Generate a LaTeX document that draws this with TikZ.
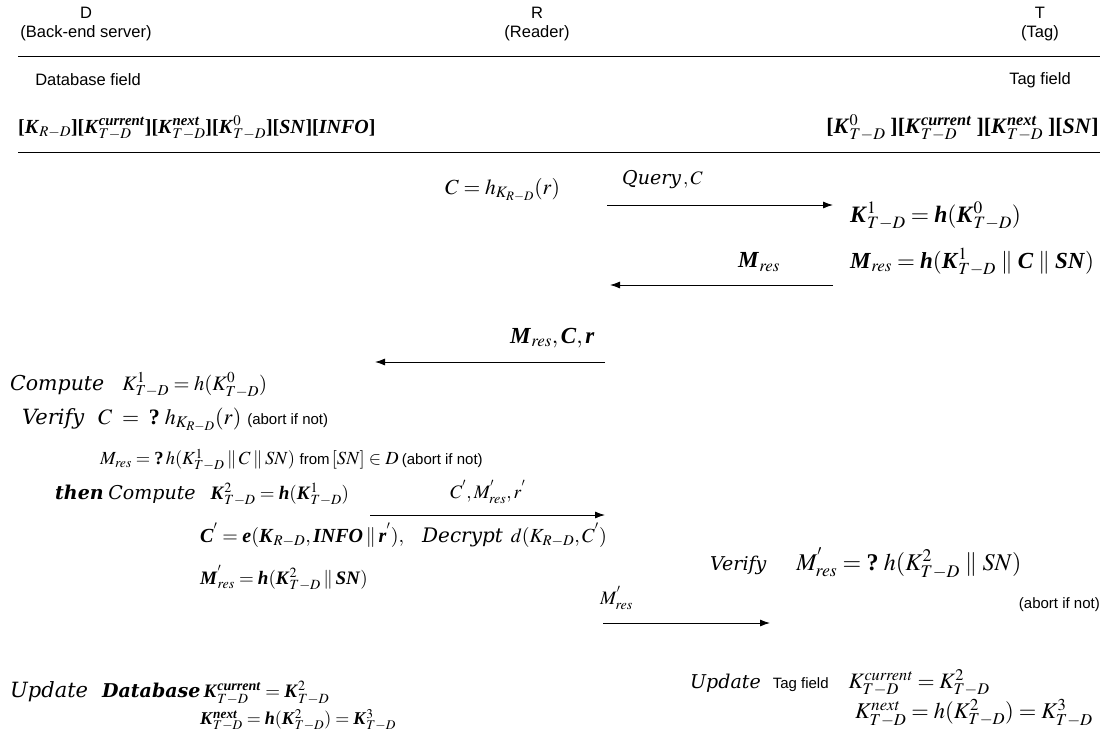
\documentclass[tikz,border=0pt]{standalone}
\usepackage{amsmath}
\usepackage{mathptmx}
\usepackage{fontspec}
\setmainfont{Liberation Serif}
\newfontfamily\arialf{Liberation Sans}
\newfontfamily\wideserif{DejaVu Serif}
\newcommand\wit{\wideserif\itshape}
\newcommand\wbit{\wideserif\bfseries\itshape}
\newcommand\bi[1]{\textbf{\textit{#1}}}
\newcommand\bK{\bi{K}}
\newcommand\pp{\mathbin{\|}}
\newcommand\wpp{\;\|\;}
\newcommand\ab{{\arialf\fontsize{15}{18}\selectfont (abort if not)}}
\usetikzlibrary{arrows.meta}
\tikzset{
  hdr/.style={font=\arialf\fontsize{16.5}{19}\selectfont, inner sep=0pt, align=center},
  lbl/.style={inner sep=0pt, anchor=west, font=\fontsize{19}{22}\selectfont},
  fs/.style={font=\fontsize{#1}{#1}\selectfont},
  msg/.style={line width=0.9pt, -{Latex[length=10pt,width=7pt]}},
  rule/.style={line width=0.8pt}
}
\begin{document}
\begin{tikzpicture}[x=1pt,y=-1pt]
\useasboundingbox (0,0) rectangle (1116,752);
% header
\node[hdr] (D) at (86,13) {D};
\node[hdr] (Dn) at (86,33) {(Back-end server)};
\node[hdr] (R) at (537,13) {R};
\node[hdr] (Rn) at (537,33) {(Reader)};
\node[hdr] (T) at (1040,13) {T};
\node[hdr] (Tn) at (1040,33) {(Tag)};
\coordinate (l1a) at (18,56); \coordinate (l1b) at (1100,56);
\draw[rule] (l1a) -- (l1b);
\node[hdr] (dbf) at (88,80) {Database field};
\node[hdr] (tgf) at (1040,80) {Tag field};
\node[lbl, fs=20] (dbrow) at (18,128) {$\textbf{[}\bK_{R-D}\textbf{][}\bK^{\bi{current}}_{T-D}\textbf{][}\bK^{\bi{next}}_{T-D}\textbf{][}\bK^{0}_{T-D}\textbf{][}\bi{SN}\textbf{][}\bi{INFO}\textbf{]}$};
\node[lbl, fs=22, anchor=east] (tagrow) at (1099,128) {$\textbf{[}\bK^{0}_{T-D}\;\textbf{][}\bK^{\bi{current}}_{T-D}\;\textbf{][}\bK^{\bi{next}}_{T-D}\;\textbf{][}\bi{SN}\textbf{]}$};
\coordinate (l2a) at (18,152); \coordinate (l2b) at (1100,152);
\draw[rule] (l2a) -- (l2b);
% step 1
\node[lbl, fs=21.5] (c1) at (445,190) {$C = h_{K_{R-D}}(r)$};
\node[lbl] (q) at (622,180) {{\wit Query}$\,, C$};
\coordinate (a1s) at (607,205); \coordinate (a1e) at (833,205);
\draw[msg] (a1s) -- (a1e);
\node[lbl, fs=23.5] (t1) at (850,216) {$\bK^{1}_{T-D} = \bi{h}(\bK^{0}_{T-D})$};
\node[lbl, fs=23] (t2) at (850,262) {$\bi{M}_{\mathit{res}} = \bi{h}(\bK^{1}_{T-D}\wpp\bi{C}\wpp\bi{SN})$};
\node[lbl, fs=23] (m1) at (738,262) {$\bi{M}_{\mathit{res}}$};
\coordinate (a2s) at (833,285); \coordinate (a2e) at (610,285);
\draw[msg] (a2s) -- (a2e);
\node[lbl, fs=23] (m2) at (510,338) {$\bi{M}_{\mathit{res}}, \bi{C}, \bi{r}$};
\coordinate (a3s) at (605,362); \coordinate (a3e) at (375,362);
\draw[msg] (a3s) -- (a3e);
% server side
\node[lbl, fs=20.5] (cmp1) at (10,385) {{\wit Compute}\hspace{18pt}$K^{1}_{T-D} = h(K^{0}_{T-D})$};
\node[lbl, fs=22] (ver1) at (22,420) {{\wit\fontsize{21}{21}\selectfont Verify}\hspace{14pt}$C \;=\; \textbf{?}\; h_{K_{R-D}}(r)$\hspace{6pt}\ab};
\node[lbl, fs=18.5] (ver2) at (100,460) {$M_{\mathit{res}} = \textbf{?}\, h(K^{1}_{T-D}\pp C\pp SN)$ {\arialf\fontsize{15}{18}\selectfont from}$\,[SN] \in D$\,\ab};
\node[lbl] (then) at (55,494) {{\wbit then} {\wit Compute}\hspace{15pt}$\bK^{2}_{T-D} = \bi{h}(\bK^{1}_{T-D})$};
\node[lbl] (m3) at (450,492) {$C^{'}, M^{'}_{\mathit{res}}, r^{'}$};
\coordinate (a4s) at (370,515); \coordinate (a4e) at (605,515);
\draw[msg] (a4s) -- (a4e);
\node[lbl, fs=20] (enc) at (200,535) {$\bi{C}^{'} = \bi{e}(\bK_{R-D}, \bi{INFO}\pp\bi{r}^{'}),$\hspace{18pt}{\wit Decrypt}\hspace{8pt}$d(K_{R-D}, C^{'})$};
\node[lbl] (ver3) at (710,563) {{\wit Verify}\hspace{30pt}{\fontsize{24}{24}\selectfont$M^{'}_{\mathit{res}} = \textbf{?}\;h(K^{2}_{T-D}\wpp SN)$}};
\node[lbl] (mres2) at (200,578) {$\bi{M}^{'}_{\mathit{res}} = \bi{h}(\bK^{2}_{T-D}\pp\bi{SN})$};
\node[lbl, anchor=east] (ab3) at (1100,605) {\ab};
\node[lbl] (m4) at (600,598) {$M^{'}_{\mathit{res}}$};
\coordinate (a5s) at (603,623); \coordinate (a5e) at (770,623);
\draw[msg] (a5s) -- (a5e);
% updates
\node[lbl] (upd1) at (10,693) {{\wit\fontsize{21}{21}\selectfont Update}\hspace{14pt}{\wbit Database}\,$\bK^{\bi{current}}_{T-D} = \bK^{2}_{T-D}$};
\node[lbl, fs=18] (upd1b) at (200,720) {$\bK^{\bi{next}}_{T-D} = \bi{h}(\bK^{2}_{T-D}) = \bK^{3}_{T-D}$};
\node[lbl] (upd2) at (690,683) {{\wit Update}\hspace{12pt}{\arialf\fontsize{15}{18}\selectfont Tag field}\hspace{20pt}{\fontsize{22}{22}\selectfont$K^{\mathit{current}}_{T-D} = K^{2}_{T-D}$}};
\node[lbl, fs=22.5] (upd2b) at (855,713) {$K^{\mathit{next}}_{T-D} = h(K^{2}_{T-D}) = K^{3}_{T-D}$};
\end{tikzpicture}
\end{document}
